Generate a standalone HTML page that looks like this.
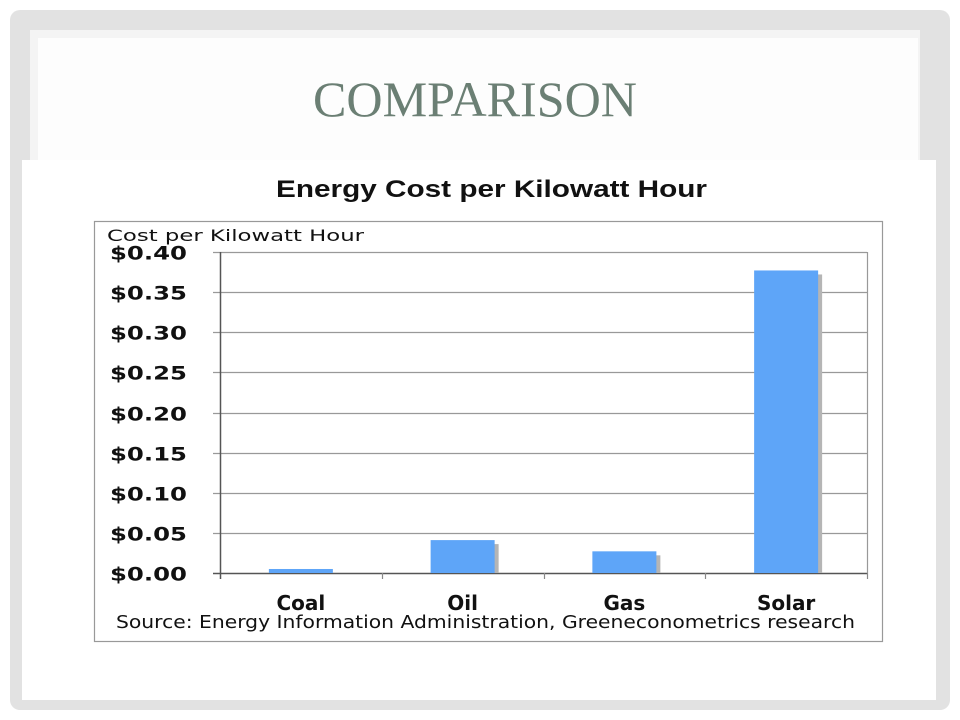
<!DOCTYPE html>
<html><head><meta charset="utf-8">
<style>
html,body{margin:0;padding:0;width:960px;height:720px;overflow:hidden;background:#fff;}
#panel{position:absolute;left:10px;top:10px;width:940px;height:700px;background:#e2e2e2;border-radius:10px;}
#titlebox{position:absolute;left:30px;top:30px;width:890px;height:130px;background:#f4f4f4;}
#titleinner{position:absolute;left:38px;top:38px;width:880px;height:122px;background:#fdfdfd;}
#chartimg{position:absolute;left:22px;top:160px;width:914px;height:540px;background:#fff;}
svg{position:absolute;left:0;top:0;}
</style></head><body>
<div id="panel"></div>
<div id="titlebox"></div>
<div id="titleinner"></div>
<div id="chartimg"></div>
<svg id="chart" width="960" height="720">
<text x="313" y="116" font-family="Liberation Serif, serif" font-size="50" fill="#6b7f74" textLength="324" lengthAdjust="spacingAndGlyphs">COMPARISON</text>
</svg>
<script>
const categories = ["Coal","Oil","Gas","Solar"];
const values = [0.005, 0.041, 0.027, 0.377];
const tickValues = [0,0.05,0.10,0.15,0.20,0.25,0.30,0.35,0.40];
const tickLabels = ["$0.00","$0.05","$0.10","$0.15","$0.20","$0.25","$0.30","$0.35","$0.40"];

const NS="http://www.w3.org/2000/svg";
const svg=document.getElementById('chart');
const X0=220,X1=867,Y0=573,Y1=252,YMAX=0.40;
const y=v=>Y0-(v/YMAX)*(Y0-Y1);
const bandW=(X1-X0)/categories.length;
const xc=i=>X0+bandW*(i+0.5);
function mk(t,a){const e=document.createElementNS(NS,t);for(const k in a)e.setAttribute(k,a[k]);svg.appendChild(e);return e;}

let e;
e=mk('text',{x:276,y:197,'font-family':'Liberation Sans, sans-serif','font-size':'24','font-weight':'bold',fill:'#111',textLength:431,lengthAdjust:'spacingAndGlyphs'});
e.textContent='Energy Cost per Kilowatt Hour';



e=mk('rect',{x:94.5,y:221.5,width:788,height:420,fill:'none',stroke:'#999','stroke-width':1.2});



e=mk('text',{x:107,y:241,'font-family':'DejaVu Sans, sans-serif','font-size':'16',fill:'#111',textLength:257,lengthAdjust:'spacingAndGlyphs'});
e.textContent='Cost per Kilowatt Hour';



tickValues.forEach((v,i)=>{
  const yy=Math.round(y(v))+0.5;
  const g=mk('line',{x1:213,x2:X1,y1:yy,y2:yy,stroke:i==0?'#555':'#999','stroke-width':i==0?1.5:1.2});
  
  
  const t=mk('text',{x:110,y:yy+7,'font-family':'DejaVu Sans, sans-serif','font-size':'19','font-weight':'bold',fill:'#111',textLength:77,lengthAdjust:'spacingAndGlyphs'});
  t.textContent=tickLabels[i];
  
  
});
e=mk('line',{x1:X1+0.5,x2:X1+0.5,y1:Y1,y2:Y0,stroke:'#999','stroke-width':1.2});


e=mk('line',{x1:X0+0.5,x2:X0+0.5,y1:Y1,y2:Y0+6,stroke:'#555','stroke-width':1.5});


for(let i=1;i<=categories.length;i++){
  const xx=Math.round(X0+bandW*i)+0.5;
  const t=mk('line',{x1:xx,x2:xx,y1:Y0,y2:Y0+6,stroke:'#888','stroke-width':1.2});
  
  
}
const BW=64;
categories.forEach((c,i)=>{
  const x=xc(i)-BW/2, top=y(values[i]);
  const s=mk('rect',{x:x+4,y:top+4,width:BW,height:Y0-top-4,fill:'#b5b5b5'});
  
  
  const b=mk('rect',{x:x,y:top,width:BW,height:Y0-top,fill:'#5ea5f8'});
  
  
  const t=mk('text',{x:xc(i),y:610,'text-anchor':'middle','font-family':'DejaVu Sans, sans-serif','font-size':'20','font-weight':'bold',fill:'#111'});
  t.textContent=c;
  
  
});
e=mk('text',{x:116,y:628,'font-family':'DejaVu Sans, sans-serif','font-size':'18',fill:'#111',textLength:739,lengthAdjust:'spacingAndGlyphs'});
e.textContent='Source: Energy Information Administration, Greeneconometrics research';


</script>
</body></html>
